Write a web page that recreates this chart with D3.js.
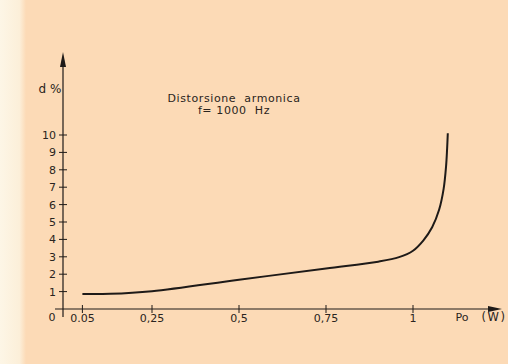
<!DOCTYPE html>
<html>
<head>
<meta charset="utf-8">
<script src="https://cdn.jsdelivr.net/npm/d3@7"></script>
<style>
  body { margin: 0; background: #fcdab6; }
  svg { display: block; }
  text { font-family: "DejaVu Sans", sans-serif; fill: #2a2420; }
</style>
</head>
<body>
<svg width="508" height="364"></svg>
<script>
// values
const power      = [0.05, 0.13, 0.25, 0.5, 0.75, 0.9, 0.96, 1.0, 1.03, 1.055, 1.075, 1.088, 1.095, 1.098, 1.1];
const distortion = [0.86, 0.87, 1.02, 1.68, 2.33, 2.72, 2.98, 3.35, 3.95, 4.7, 5.7, 6.9, 8.2, 9.2, 10.1];
const xTicks     = [0.05, 0.25, 0.5, 0.75, 1];
const xTickText  = ["0.05", "0,25", "0,5", "0,75", "1"];
const yTicks     = [1, 2, 3, 4, 5, 6, 7, 8, 9, 10];
const titleLines = ["Distorsione  armonica", "f= 1000  Hz"];

let svg = d3.select("svg"),
    ink = "#1e1a18";

// paper: lighter strip at the scanned edge
svg.append("rect").attr("width", 508).attr("height", 364).attr("fill", "#fcdab6");
let grad = svg.append("defs").append("linearGradient").attr("id", "edge");
grad.append("stop").attr("offset", "0").attr("stop-color", "#fdf6e6");
grad.append("stop").attr("offset", "0.75").attr("stop-color", "#fcefd9");
grad.append("stop").attr("offset", "1").attr("stop-color", "#fcdab6");
svg.append("rect").attr("width", 26).attr("height", 364).attr("fill", "url(#edge)");

let x = d3.scaleLinear().domain([0, 1]).range([65, 413]),
    y = d3.scaleLinear().domain([0, 10]).range([309, 135]);

// axes lines
svg.append("line").attr("x1", 55).attr("x2", 492).attr("y1", y(0)).attr("y2", y(0))
  .attr("stroke", ink).attr("stroke-width", 1.2);
svg.append("line").attr("x1", 63).attr("x2", 63).attr("y1", 317).attr("y2", 64)
  .attr("stroke", ink).attr("stroke-width", 1.2);

// arrow heads
svg.append("path").attr("d", "M63,52 L60,67 L66,67 Z").attr("fill", ink);
svg.append("path").attr("d", "M502,309 L488,306 L488,312 Z").attr("fill", ink);

// y ticks
let gy = svg.append("g");
gy.selectAll("line").data(yTicks).enter().append("line")
  .attr("x1", 59).attr("x2", 67)
  .attr("y1", d => y(d)).attr("y2", d => y(d))
  .attr("stroke", ink).attr("stroke-width", 1);
gy.selectAll("text").data(yTicks).enter().append("text")
  .attr("x", 56).attr("y", d => y(d) + 4)
  .attr("text-anchor", "end").attr("font-size", 11)
  .text(d => d);
svg.append("text").attr("x", 52).attr("y", 321).attr("text-anchor", "middle")
  .attr("font-size", 11).text("0");

// x ticks
let gx = svg.append("g");
gx.selectAll("line").data(xTicks).enter().append("line")
  .attr("x1", d => x(d)).attr("x2", d => x(d))
  .attr("y1", 305).attr("y2", 313)
  .attr("stroke", ink).attr("stroke-width", 1);
gx.selectAll("text").data(xTicks).enter().append("text")
  .attr("x", d => x(d)).attr("y", 322)
  .attr("text-anchor", "middle").attr("font-size", 11)
  .text((d, i) => xTickText[i]);

// axis names
svg.append("text").attr("x", 50).attr("y", 93).attr("text-anchor", "middle")
  .attr("font-size", 12).text("d %");
svg.append("text").attr("x", 462).attr("y", 321).attr("text-anchor", "middle")
  .attr("font-size", 11).text("Po");
svg.append("text").attr("x", 494).attr("y", 321).attr("text-anchor", "middle")
  .attr("font-size", 11.5).attr("letter-spacing", 1.5).text("(W)");

// title
svg.selectAll(".title").data(titleLines).enter().append("text")
  .attr("class", "title")
  .attr("x", 234).attr("y", (d, i) => 102 + i * 12)
  .attr("text-anchor", "middle").attr("font-size", 11)
  .attr("letter-spacing", 0.6)
  .attr("xml:space", "preserve")
  .text(d => d);

// curve
let line = d3.line()
  .x(d => x(d[0]))
  .y(d => y(d[1]))
  .curve(d3.curveCatmullRom.alpha(0.5));
svg.append("path")
  .datum(power.map((p, i) => [p, distortion[i]]))
  .attr("d", line)
  .attr("fill", "none")
  .attr("stroke", ink)
  .attr("stroke-width", 2);
</script>
</body>
</html>
